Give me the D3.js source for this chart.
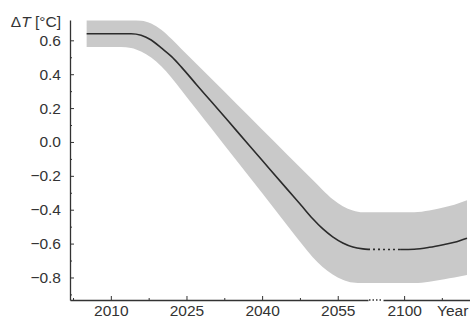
<!DOCTYPE html>
<html>
<head>
<meta charset="utf-8">
<script src="https://cdn.jsdelivr.net/npm/d3@7"></script>
<style>
  html, body { margin: 0; padding: 0; background: #fff; }
  svg { display: block; }
  text { font-family: "Liberation Sans", Arial, Helvetica, sans-serif; fill: #333; }
</style>
</head>
<body>
<svg id="chart" width="470" height="320"></svg>
<script>
// Temperature change projection: mean path with uncertainty band.
// Early period (before the axis break)
const yearsEarly = [2005.2, 2010, 2012, 2014, 2016, 2018, 2020, 2022, 2024, 2027, 2030, 2035, 2040, 2045, 2048, 2050, 2052, 2054, 2056, 2058, 2060, 2061];
const meanEarly  = [0.639, 0.639, 0.639, 0.639, 0.630, 0.602, 0.555, 0.505, 0.442, 0.338, 0.236, 0.064, -0.108, -0.280, -0.383, -0.452, -0.512, -0.560, -0.596, -0.620, -0.631, -0.634];
const upperEarly = [0.717, 0.717, 0.717, 0.717, 0.716, 0.699, 0.663, 0.609, 0.549, 0.460, 0.371, 0.222, 0.074, -0.075, -0.164, -0.223, -0.283, -0.338, -0.379, -0.404, -0.415, -0.415];
const lowerEarly = [0.561, 0.561, 0.561, 0.555, 0.534, 0.498, 0.447, 0.381, 0.306, 0.192, 0.078, -0.113, -0.302, -0.493, -0.607, -0.679, -0.738, -0.782, -0.813, -0.830, -0.833, -0.833];

// Late period (after the axis break)
const yearsLate = [2099.2, 2102, 2105, 2108, 2110, 2112.5];
const meanLate  = [-0.635, -0.633, -0.622, -0.605, -0.592, -0.568];
const upperLate = [-0.415, -0.415, -0.405, -0.385, -0.370, -0.344];
const lowerLate = [-0.833, -0.833, -0.825, -0.810, -0.800, -0.786];

// Axis ticks
const yTicks = [-0.8, -0.6, -0.4, -0.2, 0.0, 0.2, 0.4, 0.6];
const yMinor = [-0.9, -0.7, -0.5, -0.3, -0.1, 0.1, 0.3, 0.5];
const xTicksEarly = [2010, 2025, 2040, 2055];
const xMinorEarly = [2002.5, 2017.5, 2032.5, 2047.5];
const xTicksLate = [2100];
const xMinorLate = [2107.5];

const svg = d3.select("#chart");
const ink = "#333";
const fontSize = "15.5px";

// Two linear pieces joined across the break
const xEarly = d3.scaleLinear().domain([2001.9, 2061]).range([70, 368]);
const xLate  = d3.scaleLinear().domain([2095.8, 2113.1]).range([383, 470]);
const x = d3.scaleLinear()
  .domain([2001.9, 2061, 2095.8, 2113.1])
  .range([70, 368, 383, 470]);
const y = d3.scaleLinear().domain([-0.933, 0.72]).range([300, 20]);

const early = yearsEarly.map((t, i) => ({ t, m: meanEarly[i], hi: upperEarly[i], lo: lowerEarly[i] }));
const late  = yearsLate.map((t, i) => ({ t, m: meanLate[i], hi: upperLate[i], lo: lowerLate[i] }));
const all = early.concat(late);

// Uncertainty band
const band = d3.area()
  .x(d => x(d.t))
  .y0(d => y(d.lo))
  .y1(d => y(d.hi))
  .curve(d3.curveMonotoneX);
svg.append("path").datum(all)
  .attr("d", band)
  .attr("fill", "#c9c9c9");

// Mean path
const line = d3.line()
  .x(d => x(d.t))
  .y(d => y(d.m))
  .curve(d3.curveMonotoneX);
svg.append("path").datum(early)
  .attr("d", line)
  .attr("fill", "none")
  .attr("stroke", "#2b2b2b")
  .attr("stroke-width", 1.6);
svg.append("path").datum(late)
  .attr("d", line)
  .attr("fill", "none")
  .attr("stroke", "#2b2b2b")
  .attr("stroke-width", 1.6);
svg.append("path").datum([early[early.length - 1], late[0]])
  .attr("d", d3.line().x(d => x(d.t)).y(d => y(d.m)))
  .attr("fill", "none")
  .attr("stroke", "#2b2b2b")
  .attr("stroke-width", 1.6)
  .attr("stroke-dasharray", "2,3");

function styleAxis(g) {
  g.selectAll("path.domain").attr("stroke", ink).attr("stroke-width", 1.3);
  g.selectAll(".tick line").attr("stroke", ink).attr("stroke-width", 1);
  g.selectAll(".tick text").attr("fill", ink).style("font-size", fontSize)
    .style("font-family", '"Liberation Sans", Arial, sans-serif');
}

// Y axis
const fmt = d3.format(".1f");
const gy = svg.append("g").attr("transform", "translate(70,0)")
  .call(d3.axisLeft(y).tickValues(yTicks).tickFormat(fmt)
    .tickSizeInner(-4).tickSizeOuter(0).tickPadding(9));
styleAxis(gy);
const gyMinor = svg.append("g").attr("transform", "translate(70,0)")
  .call(d3.axisLeft(y).tickValues(yMinor).tickFormat("").tickSizeInner(-2).tickSizeOuter(0));
gyMinor.select("path.domain").remove();
styleAxis(gyMinor);

// X axis, two pieces
function xAxis(scale, major, minor) {
  const g = svg.append("g").attr("transform", "translate(0,300)")
    .call(d3.axisBottom(scale).tickValues(major).tickFormat(d3.format("d"))
      .tickSizeInner(-4).tickSizeOuter(0).tickPadding(5));
  styleAxis(g);
  const gm = svg.append("g").attr("transform", "translate(0,300)")
    .call(d3.axisBottom(scale).tickValues(minor).tickFormat("").tickSizeInner(-2).tickSizeOuter(0));
  gm.select("path.domain").remove();
  styleAxis(gm);
}
xAxis(xEarly, xTicksEarly, xMinorEarly);
xAxis(xLate, xTicksLate, xMinorLate);

// Dotted break on the time axis
svg.append("line")
  .attr("x1", xEarly.range()[1] + 1).attr("x2", xLate.range()[0] - 1)
  .attr("y1", 300).attr("y2", 300)
  .attr("stroke", ink).attr("stroke-width", 1.3)
  .attr("stroke-dasharray", "1.5,2");

// Axis titles
const yTitle = svg.append("text")
  .attr("x", 61).attr("y", 27)
  .attr("text-anchor", "end")
  .style("font-size", fontSize);
yTitle.append("tspan").text("Δ");
yTitle.append("tspan").style("font-style", "italic").text("T");
yTitle.append("tspan").text(" [°C]");

svg.append("text")
  .attr("x", 437).attr("y", 316)
  .style("font-size", fontSize)
  .text("Year");
</script>
</body>
</html>
